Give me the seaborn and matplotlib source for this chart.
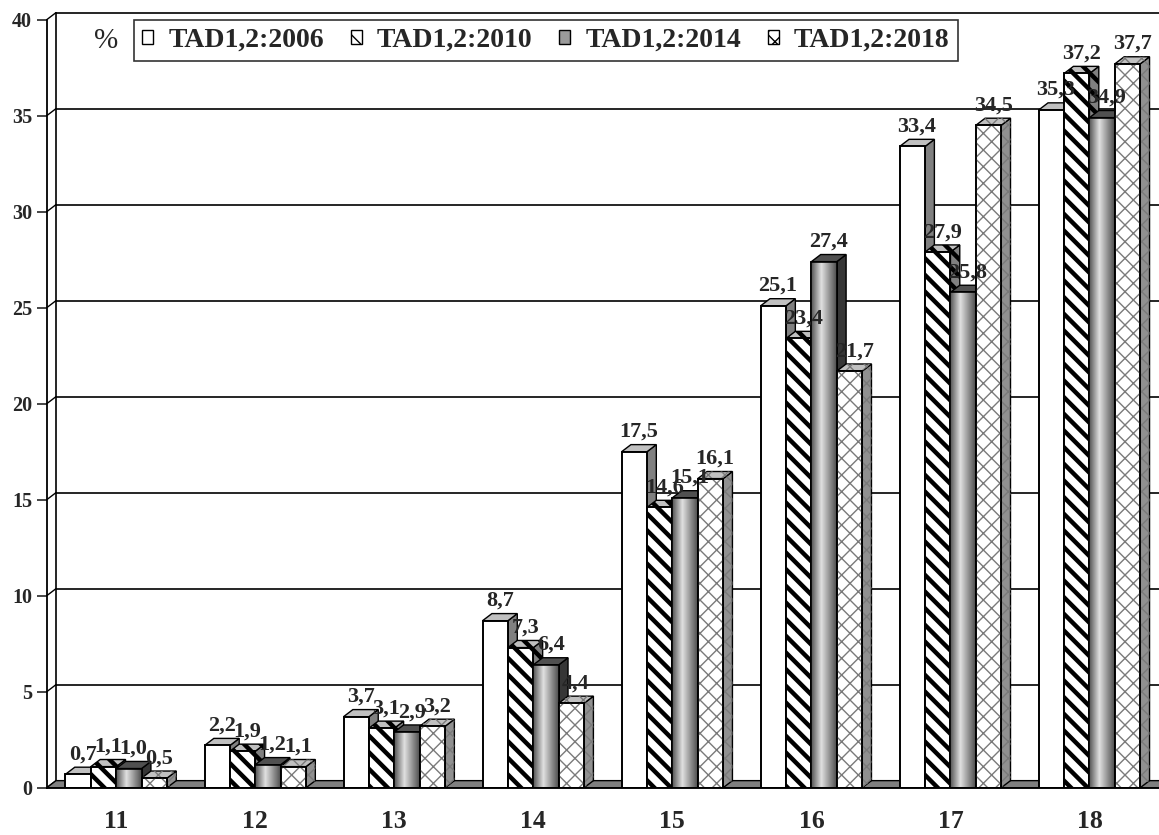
import numpy as np
import pandas as pd
import matplotlib
matplotlib.use("Agg")
import matplotlib.pyplot as plt
import matplotlib.patches as mpatches
import seaborn as sns

# data
ages = ['11', '12', '13', '14', '15', '16', '17', '18']
years = ['TAD1,2:2006', 'TAD1,2:2010', 'TAD1,2:2014', 'TAD1,2:2018']
v2006 = [0.7, 2.2, 3.7, 8.7, 17.5, 25.1, 33.4, 35.3]
v2010 = [1.1, 1.9, 3.1, 7.3, 14.6, 23.4, 27.9, 37.2]
v2014 = [1.0, 1.2, 2.9, 6.4, 15.1, 27.4, 25.8, 34.9]
v2018 = [0.5, 1.1, 3.2, 4.4, 16.1, 21.7, 34.5, 37.7]
y_ticks = [0, 5, 10, 15, 20, 25, 30, 35, 40]

df = pd.DataFrame({
    'age': ages * 4,
    'year': np.repeat(years, len(ages)),
    'value': v2006 + v2010 + v2014 + v2018,
})

sns.set_style('white')
plt.rcParams['font.family'] = ['Liberation Serif', 'DejaVu Serif']
plt.rcParams['font.weight'] = 'bold'

fig = plt.figure(figsize=(11.59, 8.35), dpi=100)
ax = fig.add_axes([0.0403, 0.0566, 0.9597, 0.9198])

front_colors = {'TAD1,2:2006': 'white', 'TAD1,2:2010': 'white',
                'TAD1,2:2014': '#9a9a9a', 'TAD1,2:2018': 'white'}
sns.barplot(data=df, x='age', y='value', hue='year', hue_order=years,
            palette=front_colors, width=0.73, gap=0, edgecolor='black',
            linewidth=1.2, saturation=1, legend=False, ax=ax)

dx, dy = 0.067, 0.37  # fake 3D depth in data units

# floor and back wall
floor = mpatches.Polygon([(-0.5, 0), (7.5, 0), (7.5 + dx, dy), (-0.5 + dx, dy)],
                         closed=True, facecolor='#7f7f7f', edgecolor='black',
                         lw=1.0, zorder=1, clip_on=False)
ax.add_patch(floor)
for v in y_ticks:
    if v > 0:
        ax.plot([-0.5 + dx, 7.6], [v + dy, v + dy], color='black', lw=1.2,
                zorder=0.5, clip_on=False)
    ax.plot([-0.5, -0.5 + dx], [v, v + dy], color='black', lw=1.0,
            zorder=0.6, clip_on=False)
ax.plot([-0.5 + dx, -0.5 + dx], [dy, 40 + dy], color='black', lw=1.2,
        zorder=0.6, clip_on=False)

grad_t = np.linspace(0, 1, 64)
grad = np.interp(grad_t, [0, 0.4, 1], [0.32, 0.88, 0.3])[None, :]

styles = {
    'TAD1,2:2006': dict(hatch=None, hcol='black', top='#c0c0c0', side='#808080'),
    'TAD1,2:2010': dict(hatch='\\\\', hcol='black', top='#c0c0c0', side='#808080'),
    'TAD1,2:2014': dict(hatch=None, hcol='black', top='#505050', side='#363636'),
    'TAD1,2:2018': dict(hatch='xx', hcol='#7a7a7a', top='#c0c0c0', side='#909090'),
}


def set_hlw(p, w):
    if hasattr(p, 'set_hatch_linewidth'):
        p.set_hatch_linewidth(w)


for year, cont in zip(years, ax.containers):
    st = styles[year]
    for bar in cont:
        x0 = bar.get_x()
        w = bar.get_width()
        h = bar.get_height()
        z = 3 + x0 * 0.5
        side = mpatches.Polygon([(x0 + w, 0), (x0 + w, h), (x0 + w + dx, h + dy),
                                 (x0 + w + dx, dy)], closed=True,
                                facecolor=st['side'], edgecolor='black', lw=1.0,
                                zorder=z)
        top = mpatches.Polygon([(x0, h), (x0 + w, h), (x0 + w + dx, h + dy),
                                (x0 + dx, h + dy)], closed=True,
                               facecolor=st['top'], edgecolor='black', lw=1.0,
                               zorder=z + 0.01)
        ax.add_patch(side)
        ax.add_patch(top)
        bar.set_zorder(z + 0.02)
        if year == 'TAD1,2:2014':
            im = ax.imshow(grad, cmap='gray', vmin=0, vmax=1, aspect='auto',
                           extent=[x0, x0 + w, 0, h], interpolation='bilinear',
                           zorder=z + 0.03)
            im.set_clip_path(bar)
        if st['hatch']:
            hlw = 3.2 if '\\' in st['hatch'] else 1.0
            for poly in (side, top):
                hp = mpatches.Polygon(poly.get_xy(), closed=True, facecolor='none',
                                      edgecolor=st['hcol'], lw=0, hatch=st['hatch'],
                                      zorder=poly.get_zorder() + 0.001)
                set_hlw(hp, hlw)
                ax.add_patch(hp)
            hb = mpatches.Rectangle((x0, 0), w, h, facecolor='none',
                                    edgecolor=st['hcol'], lw=0, hatch=st['hatch'],
                                    zorder=z + 0.03)
            set_hlw(hb, hlw)
            ax.add_patch(hb)
        ax.add_patch(mpatches.Rectangle((x0, 0), w, h, facecolor='none',
                                        edgecolor='black', lw=1.2, zorder=z + 0.04))
        ax.annotate(f"{h:.1f}".replace('.', ','), (x0 + w / 2 + dx / 2, h + dy),
                    xytext=(0, 2), textcoords='offset points', ha='center',
                    va='bottom', fontsize=16, fontweight='bold', zorder=20)

ax.set_xlim(-0.5, 7.5)
ax.set_ylim(0, 40)
ax.set_yticks(y_ticks)
ax.set_yticklabels([str(v) for v in y_ticks], fontsize=14.5, fontweight='bold')
ax.set_xticks(range(len(ages)))
ax.set_xticklabels(ages, fontsize=18.5, fontweight='bold')
ax.set_xticks(np.arange(-0.5, 8, 1), minor=True)
ax.tick_params(axis='x', which='major', length=0, pad=16)
ax.tick_params(axis='x', which='minor', length=7.5, width=1.2, direction='out')
ax.tick_params(axis='y', length=7.5, width=1.2, direction='out', pad=3, left=True)
ax.set_xlabel('')
ax.set_ylabel('')
for s in ['top', 'right']:
    ax.spines[s].set_visible(False)
for s in ['left', 'bottom']:
    ax.spines[s].set_color('black')
    ax.spines[s].set_linewidth(1.3)
    ax.spines[s].set_zorder(30)

# legend
handles = []
for year in years:
    st = styles[year]
    hp = mpatches.Patch(facecolor=front_colors[year], edgecolor='black', lw=1.0,
                        hatch=st['hatch'], label=year)
    handles.append(hp)
leg = ax.legend(handles=handles, loc='upper left', bbox_to_anchor=(0.0785, 1.0),
                borderaxespad=0, ncol=4, fontsize=20, frameon=True, fancybox=False,
                handlelength=0.4, handleheight=0.4, handletextpad=0.54,
                columnspacing=0.96, borderpad=0.3)
leg.get_frame().set_edgecolor('black')
leg.get_frame().set_linewidth(1.2)
leg.set_zorder(40)
for t in leg.get_texts():
    t.set_fontweight('bold')
ax.text(0.0533, 0.972, '%', transform=ax.transAxes, ha='center', va='center',
        fontsize=21, fontweight='normal', zorder=40)

fig.savefig('out.png', dpi=100)
